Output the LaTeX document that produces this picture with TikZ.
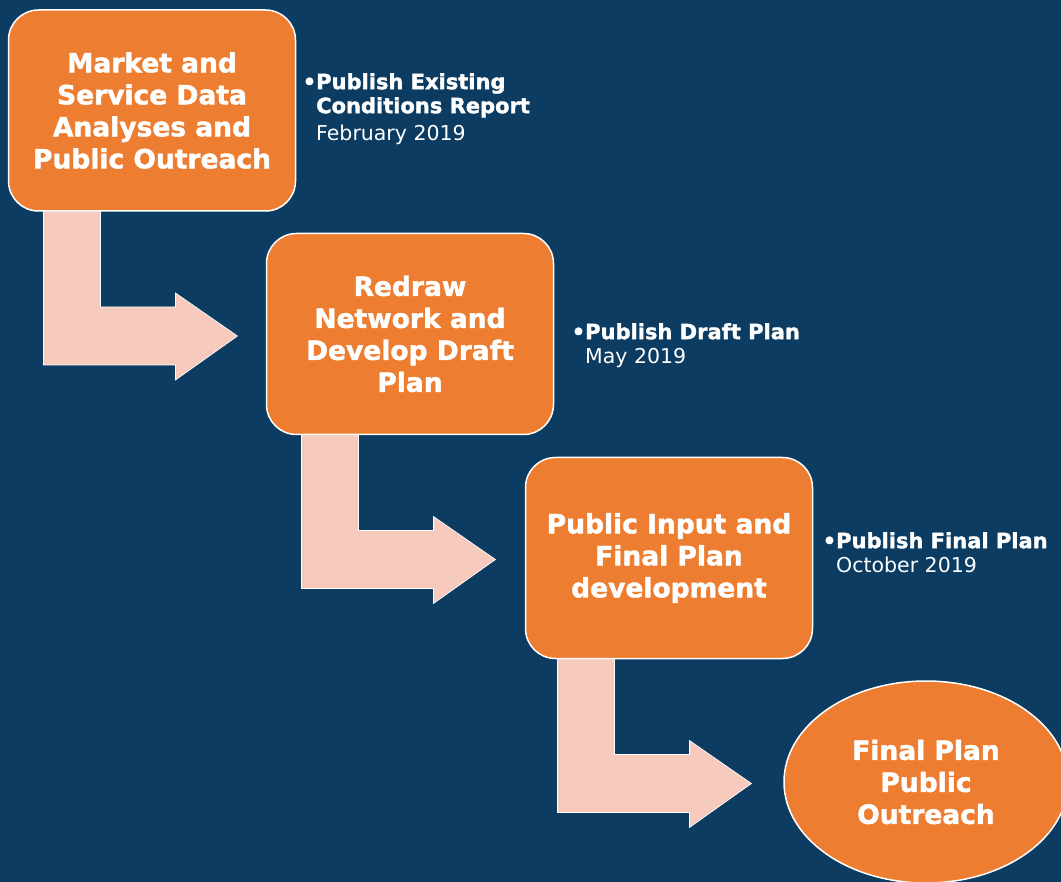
\documentclass[tikz,border=0pt]{standalone}
\usepackage{fontspec}
\setmainfont{DejaVu Sans}[BoldFeatures={FakeBold=1.6}]
\usetikzlibrary{shapes.geometric,calc}
\definecolor{bgnavy}{HTML}{0C3C61}
\definecolor{boxorange}{HTML}{ED7D31}
\definecolor{arrowpink}{HTML}{F6CBBD}
\tikzset{
  stagebox/.style={draw=white, line width=1.5pt, fill=boxorange, rounded corners=30pt,
    minimum width=287pt, minimum height=201pt, align=center, text=white, inner sep=0pt,
    font=\bfseries\fontsize{26.5}{32}\selectfont},
  finalell/.style={ellipse, draw=white, line width=1.5pt, fill=boxorange,
    minimum width=284pt, minimum height=202pt, align=center, text=white, inner sep=0pt,
    font=\bfseries\fontsize{26.5}{32}\selectfont},
  sidenote/.style={anchor=north west, align=left, inner sep=0pt, text=white,
    font=\bfseries\fontsize{21}{24}\selectfont},
  bentarr/.pic={
    \fill[arrowpink, draw=white, line width=0.6pt]
      (0,-5) -- (57,-5) -- (57,96) -- (132,96) -- (132,82) -- (194,125)
      -- (132,169) -- (132,154) -- (0,154) -- cycle;
  }
}
\newcommand{\datefont}{\mdseries\fontsize{20.5}{24}\selectfont}
\begin{document}
\begin{tikzpicture}[x=1pt, y=-1pt]
\useasboundingbox (0,0) rectangle (1061,882);
\clip (0,0) rectangle (1061,882);
\fill[bgnavy] (0,0) rectangle (1061,882);

\coordinate (c1) at (152,110.5);
\coordinate (c2) at (410,334);
\coordinate (c3) at (669,558);

% bent arrows, anchored under each box
\path ($(c1)+(-143.5,100.5)$) coordinate (a1);
\path ($(c2)+(-143.5,100.5)$) coordinate (a2);
\path ($(c3)+(-143.5,100.5)$) coordinate (a3);
\pic at ($(a1)+(35,0)$) {bentarr};
\pic at ($(a2)+(35,0)$) {bentarr};
\pic at ($(a3)+(32,0)$) {bentarr};

\node[stagebox] (b1) at (c1) {Market and\\Service Data\\Analyses and\\Public Outreach};
\node[stagebox] (b2) at (c2) {Redraw\\Network and\\Develop Draft\\Plan};
\node[stagebox] (b3) at (c3) {Public Input and\\Final Plan\\development};
\node[finalell] (b4) at (926,782) {Final Plan\\Public\\Outreach};

\node[sidenote] (n1) at (316,73) {\llap{•}Publish Existing\\Conditions Report\\[3pt]{\datefont February 2019}};
\node[sidenote] (n2) at (585,323) {\llap{•}Publish Draft Plan\\{\datefont May 2019}};
\node[sidenote] (n3) at (836,532) {\llap{•}Publish Final Plan\\{\datefont October 2019}};
\end{tikzpicture}
\end{document}
